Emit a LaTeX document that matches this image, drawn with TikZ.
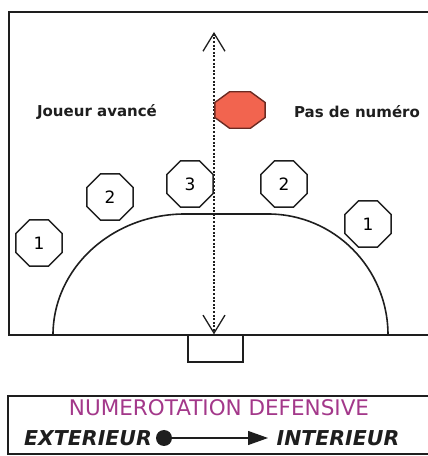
\documentclass[tikz,border=0pt]{standalone}
\usepackage{fontspec}
\setmainfont{DejaVu Sans}
\usepackage{tikz}
\usetikzlibrary{shapes.geometric,arrows.meta}
\definecolor{hbRed}{HTML}{F2644F}
\definecolor{hbRedLine}{HTML}{6B2A22}
\definecolor{hbPurple}{HTML}{A3388A}
\definecolor{hbInk}{HTML}{1E1E1E}
\begin{document}
\begin{tikzpicture}[x=1pt,y=1pt,
  joueur/.style={draw=hbInk,line width=1.4pt,regular polygon,regular polygon sides=8,minimum size=50pt,inner sep=0pt,font=\fontsize{17}{19}\selectfont},
  etiquette/.style={font=\fontsize{15}{17}\selectfont\bfseries,text=hbInk,inner sep=0pt},
  sens/.style={font=\fontsize{20.5}{22}\selectfont\bfseries\itshape,text=hbInk,inner sep=0pt}]
  \useasboundingbox (0,0) rectangle (428,456);
  % terrain
  \draw[hbInk,line width=1.8pt] (428,444) -- (9,444) -- (9,121) -- (428,121);
  \draw[hbInk,line width=1.6pt] (53,121) arc[start angle=180,end angle=90,x radius=132,y radius=121]
    -- (268,242) arc[start angle=90,end angle=0,x radius=120,y radius=121];
  \node[draw=hbInk,line width=1.3pt,minimum width=55pt,minimum height=27pt,inner sep=0pt] (but) at (215.5,107.5) {};
  \coordinate (haut) at (214,424);
  \draw[hbInk,line width=2.4pt,dash pattern=on 2pt off 1.6pt,
    {Straight Barb[length=18pt,width=22pt,line width=1.3pt]}-{Straight Barb[length=18pt,width=22pt,line width=1.3pt]}]
    (haut) -- (haut |- but.north);
  % joueurs
  \node[regular polygon,regular polygon sides=8,minimum size=46pt,inner sep=0pt,xscale=1.18,yscale=0.86,transform shape,draw=hbRedLine,line width=1.4pt,fill=hbRed] (avance) at (240,346) {};
  \node[joueur] (j3) at (190,272) {3};
  \node[joueur] (j2d) at (284,272) {2};
  \node[joueur] (j2g) at (110,259) {2};
  \node[joueur] (j1g) at (39,213) {1};
  \node[joueur] (j1d) at (368,232) {1};
  \node[etiquette] (lavance) at (97,344) {Joueur avancé};
  \node[etiquette] (lnum) at (357,344) {Pas de numéro};
  % legende
  \draw[hbInk,line width=1.8pt] (428,60) -- (8,60) -- (8,2) -- (428,2);
  \node[font=\fontsize{21.5}{23}\selectfont,text=hbPurple,inner sep=0pt] (titre) at (219,48) {NUMEROTATION DEFENSIVE};
  \node[sens] (ext) at (88,18) {EXTERIEUR};
  \node[circle,fill=hbInk,minimum size=16pt,inner sep=0pt] (pt) at (164,18) {};
  \node[sens] (int) at (338,18) {INTERIEUR};
  \coordinate (fl) at (268,18);
  \draw[hbInk,line width=1.3pt,-{Triangle[length=20pt,width=14pt]}] (pt) -- (fl);
\end{tikzpicture}
\end{document}
